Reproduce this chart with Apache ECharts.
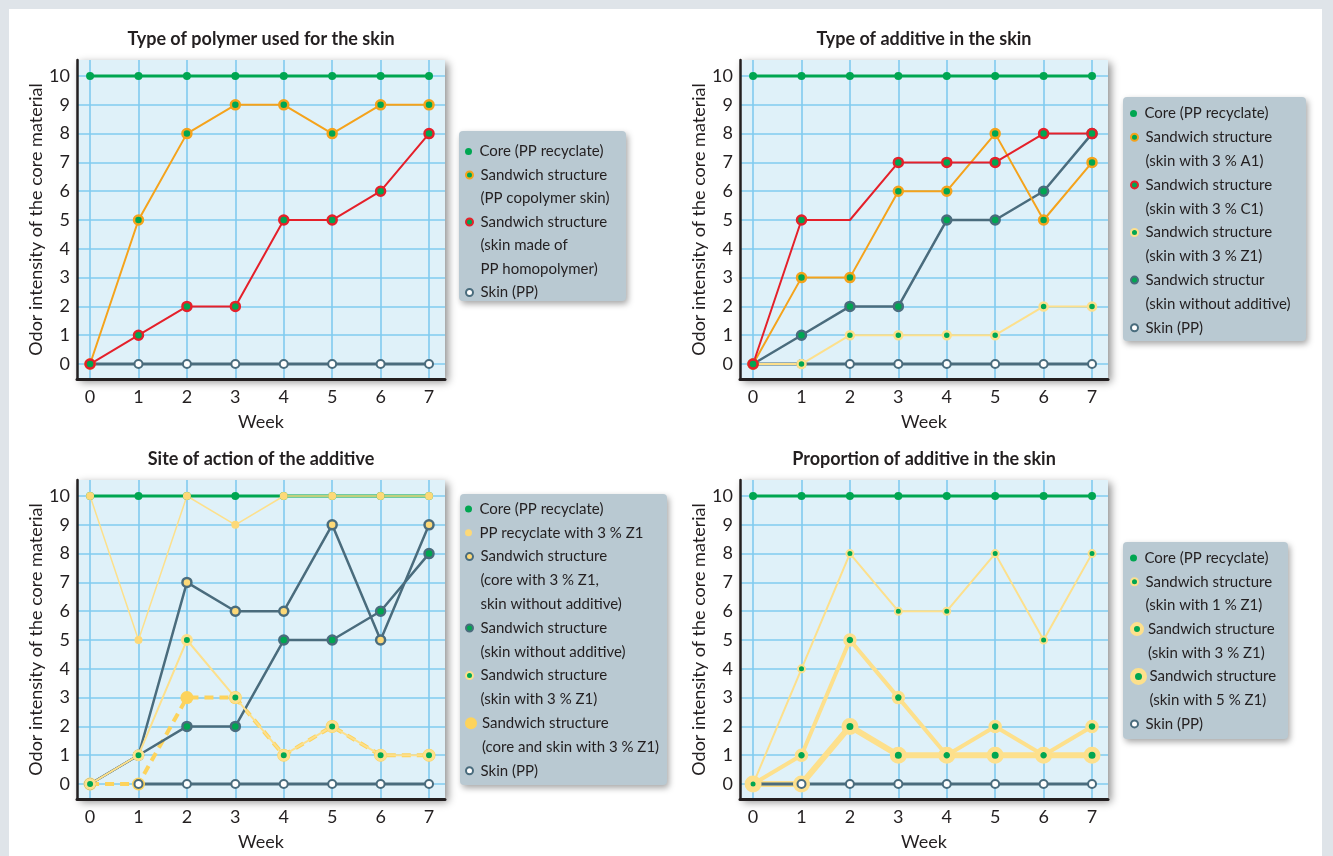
<!DOCTYPE html>
<html><head><meta charset="utf-8">
<script src="https://cdn.jsdelivr.net/npm/echarts@6/dist/echarts.min.js"></script>
<style>
html,body{margin:0;padding:0;background:#dfe4e9;overflow:hidden;}
#frame{position:absolute;left:9px;top:9px;width:1313px;height:860px;background:#fff;}
#chart{position:absolute;left:0;top:0;width:1333px;height:856px;}
</style></head><body><div id="frame"></div><div id="chart"></div>
<script>
// ---------- data ----------
const weeks = [0, 1, 2, 3, 4, 5, 6, 7];
const yTicks = [0, 1, 2, 3, 4, 5, 6, 7, 8, 9, 10];
const titles = ['Type of polymer used for the skin', 'Type of additive in the skin',
  'Site of action of the additive', 'Proportion of additive in the skin'];
const xName = 'Week';
const yName = 'Odor intensity of the core material';

// Panel 1
const p1Core = [10, 10, 10, 10, 10, 10, 10, 10];
const p1Copolymer = [0, 5, 8, 9, 9, 8, 9, 9];
const p1Homopolymer = [0, 1, 2, 2, 5, 5, 6, 8];
const p1Skin = [0, 0, 0, 0, 0, 0, 0, 0];
// Panel 2
const p2Core = [10, 10, 10, 10, 10, 10, 10, 10];
const p2A1 = [0, 3, 3, 6, 6, 8, 5, 7];
const p2C1 = [0, 5, 5, 7, 7, 7, 8, 8];
const p2Z1 = [0, 0, 1, 1, 1, 1, 2, 2];
const p2NoAdditive = [0, 1, 2, 2, 5, 5, 6, 8];
const p2Skin = [0, 0, 0, 0, 0, 0, 0, 0];
// Panel 3
const p3Core = [10, 10, 10, 10, 10, 10, 10, 10];
const p3RecyclateZ1 = [10, 5, 10, 9, 10, 10, 10, 10];
const p3CoreZ1 = [0, 1, 7, 6, 6, 9, 5, 9];
const p3NoAdditive = [0, 1, 2, 2, 5, 5, 6, 8];
const p3SkinZ1 = [0, 1, 5, 3, 1, 2, 1, 1];
const p3CoreSkinZ1 = [0, 0, 3, 3, 1, 2, 1, 1];
const p3Skin = [null, 0, 0, 0, 0, 0, 0, 0];
// Panel 4
const p4Core = [10, 10, 10, 10, 10, 10, 10, 10];
const p4Z1at1 = [0, 4, 8, 6, 6, 8, 5, 8];
const p4Z1at3 = [0, 1, 5, 3, 1, 2, 1, 2];
const p4Z1at5 = [0, 0, 2, 1, 1, 1, 1, 1];
const p4Skin = [0, 0, 0, 0, 0, 0, 0, 0];

// ---------- styles ----------
const FONT = 'Lato, "Open Sans", sans-serif';
const TXT = '#231f20';
const GREEN = '#00a651', ORANGE = '#f5a31b', RED = '#e5202a', SLATE = '#4a6c7d',
  LY = '#fde08c', GOLD = '#fdd35c', PALE = '#fdd978';

const ST = {
  core:   {lc: GREEN, lw: 3, fill: GREEN, size: 8, legSize: 7},
  skin:   {lc: SLATE, lw: 3, fill: '#ffffff', bc: SLATE, bw: 2, size: 8, legSize: 7, legBw: 2},
  orange: {lc: ORANGE, lw: 2, fill: GREEN, bc: ORANGE, bw: 2.5, size: 9, legSize: 7, legBw: 2},
  red:    {lc: RED, lw: 2, fill: GREEN, bc: RED, bw: 2.5, size: 9, legSize: 7, legBw: 2},
  ly:     {lc: LY, lw: 2, fill: GREEN, bc: LY, bw: 2.5, size: 8, legSize: 7, legBw: 2},
  slateG: {lc: SLATE, lw: 2.5, fill: GREEN, bc: SLATE, bw: 2.5, size: 9, legSize: 7, legBw: 2},
  slateY: {lc: SLATE, lw: 2.5, fill: PALE, bc: SLATE, bw: 2.5, size: 9, legSize: 7, legBw: 2},
  paleY:  {lc: LY, lw: 1.5, fill: PALE, size: 8, legSize: 7},
  dashY:  {lc: GOLD, lw: 4, dash: [9, 6], fill: GOLD, size: 13, legSize: 12},
  skinZ1: {lc: LY, lw: 2, fill: GREEN, bc: LY, bw: 3, size: 9, legSize: 7, legBw: 2},
  z1p1:   {lc: LY, lw: 2, fill: GREEN, bc: LY, bw: 2, size: 7, legSize: 7, legBw: 2},
  z1p3:   {lc: LY, lw: 4, fill: GREEN, bc: LY, bw: 3.5, size: 10, legSize: 10, legBw: 4},
  z1p5:   {lc: LY, lw: 6, fill: GREEN, bc: LY, bw: 5, size: 12, legSize: 12, legBw: 5}
};

// panels: items in legend order, layer = drawing order
const panels = [
  {grid: {left: 77, top: 60}, title: {x: 261, y: 30}, leg: {x: 471, y: 150.5, lh: 23.5, box: [459, 131, 167, 170]},
   items: [
    {name: 'Core (PP recyclate)', vals: p1Core, st: ST.core, layer: 1},
    {name: 'Sandwich structure\n(PP copolymer skin)', vals: p1Copolymer, st: ST.orange, layer: 2},
    {name: 'Sandwich structure\n(skin made of\nPP homopolymer)', vals: p1Homopolymer, st: ST.red, layer: 3},
    {name: 'Skin (PP)', vals: p1Skin, st: ST.skin, layer: 0}]},
  {grid: {left: 740, top: 60}, title: {x: 924, y: 30}, leg: {x: 1136, y: 112.5, lh: 23.8, box: [1123, 97, 183, 244]},
   items: [
    {name: 'Core (PP recyclate)', vals: p2Core, st: ST.core, layer: 5},
    {name: 'Sandwich structure\n(skin with 3 % A1)', vals: p2A1, st: ST.orange, layer: 3},
    {name: 'Sandwich structure\n(skin with 3 % C1)', vals: p2C1, st: ST.red, layer: 4, hideMarkerAt: [2]},
    {name: 'Sandwich structure\n(skin with 3 % Z1)', vals: p2Z1, st: ST.ly, layer: 1},
    {name: 'Sandwich structur\n(skin without additive)', vals: p2NoAdditive, st: ST.slateG, layer: 2},
    {name: 'Skin (PP)', vals: p2Skin, st: ST.skin, layer: 0}]},
  {grid: {left: 77, top: 480}, title: {x: 261, y: 450}, leg: {x: 471, y: 508, lh: 23.8, box: [460, 494, 207, 291]},
   items: [
    {name: 'Core (PP recyclate)', vals: p3Core, st: ST.core, layer: 0},
    {name: 'PP recyclate with 3 % Z1', vals: p3RecyclateZ1, st: ST.paleY, layer: 1},
    {name: 'Sandwich structure\n(core with 3 % Z1,\nskin without additive)', vals: p3CoreZ1, st: ST.slateY, layer: 4},
    {name: 'Sandwich structure\n(skin without additive)', vals: p3NoAdditive, st: ST.slateG, layer: 5},
    {name: 'Sandwich structure\n(skin with 3 % Z1)', vals: p3SkinZ1, st: ST.skinZ1, layer: 6},
    {name: 'Sandwich structure\n(core and skin with 3 % Z1)', vals: p3CoreSkinZ1, st: ST.dashY, layer: 2},
    {name: 'Skin (PP)', vals: p3Skin, st: ST.skin, layer: 3}]},
  {grid: {left: 740, top: 480}, title: {x: 924, y: 450}, leg: {x: 1136, y: 557, lh: 23.7, box: [1123, 542, 165, 197]},
   items: [
    {name: 'Core (PP recyclate)', vals: p4Core, st: ST.core, layer: 4},
    {name: 'Sandwich structure\n(skin with 1 % Z1)', vals: p4Z1at1, st: ST.z1p1, layer: 3},
    {name: 'Sandwich structure\n(skin with 3 % Z1)', vals: p4Z1at3, st: ST.z1p3, layer: 2},
    {name: 'Sandwich structure\n(skin with 5 % Z1)', vals: p4Z1at5, st: ST.z1p5, layer: 0},
    {name: 'Skin (PP)', vals: p4Skin, st: ST.skin, layer: 1}]}
];

const grids = [], xAxes = [], yAxes = [], series = [], legends = [], titleOpts = [], graphics = [];

panels.forEach((p, gi) => {
  grids.push({left: p.grid.left, top: p.grid.top, width: 368, height: 319, show: true,
    backgroundColor: '#dff1f9', borderWidth: 0, shadowBlur: 8, shadowColor: 'rgba(0,0,0,0.45)',
    shadowOffsetX: 3, shadowOffsetY: 3, outerBoundsMode: 'none', containLabel: false});
  xAxes.push({type: 'value', gridIndex: gi, min: -0.27, max: 7.33, name: xName,
    nameLocation: 'middle', nameGap: 34,
    nameTextStyle: {fontFamily: FONT, fontSize: 18, color: TXT},
    axisLine: {show: true, onZero: false, lineStyle: {color: TXT, width: 3}},
    axisTick: {show: false, customValues: weeks},
    axisLabel: {customValues: weeks, fontFamily: FONT, fontSize: 18, color: TXT, margin: 9},
    splitLine: {show: true, lineStyle: {color: '#80cbef', width: 1.6}}});
  yAxes.push({type: 'value', gridIndex: gi, min: -0.52, max: 10.556, name: yName,
    nameLocation: 'middle', nameGap: 31,
    nameTextStyle: {fontFamily: FONT, fontSize: 18, color: TXT},
    axisLine: {show: true, onZero: false, lineStyle: {color: TXT, width: 2.5}},
    axisTick: {show: false, customValues: yTicks},
    axisLabel: {customValues: yTicks, fontFamily: FONT, fontSize: 18, color: TXT, margin: 7},
    splitLine: {show: true, lineStyle: {color: '#80cbef', width: 1.6}}});
  titleOpts.push({text: titles[gi], left: p.title.x, top: p.title.y, textAlign: 'center', padding: 0,
    textStyle: {fontFamily: FONT, fontSize: 18, fontWeight: 'bold', color: TXT}});

  // series in drawing order
  p.items.slice().sort((a, b) => a.layer - b.layer).forEach(it => {
    const s = it.st;
    const hide = it.hideMarkerAt || [];
    series.push({
      type: 'line', name: it.name, xAxisIndex: gi, yAxisIndex: gi,
      data: weeks.map((w, i) => {
        const v = it.vals[i] == null ? '-' : it.vals[i];
        return hide.indexOf(i) >= 0 ? {value: [w, v], symbol: 'none'} : [w, v];
      }),
      symbol: 'circle', symbolSize: s.size, showSymbol: true, showAllSymbol: true,
      lineStyle: {color: s.lc, width: s.lw, type: s.dash || 'solid'},
      itemStyle: {color: s.fill, borderColor: s.bc || s.fill, borderWidth: s.bw || 0},
      emphasis: {disabled: true}, silent: true, animation: false
    });
  });

  // legend box
  const b = p.leg.box;
  graphics.push({type: 'rect', shape: {x: b[0], y: b[1], width: b[2], height: b[3], r: 4}, z: 1,
    style: {fill: '#b9c9d2', shadowBlur: 6, shadowOffsetX: 2, shadowOffsetY: 3, shadowColor: 'rgba(0,0,0,0.35)'}});

  // legends: one per item; leading blank lines keep the icon on the first text line
  let line = 0;
  p.items.forEach(it => {
    const n = it.name.split('\n').length;
    const s = it.st;
    const H = s.legSize, W = Math.max(12, H);
    const cy = p.leg.y + line * p.leg.lh;
    legends.push({
      orient: 'vertical', left: p.leg.x - W / 2, top: cy - (n - 0.5) * p.leg.lh + 1, padding: 0, itemGap: 0,
      itemWidth: W, itemHeight: H, selectedMode: false, z: 5,
      formatter: '\n'.repeat(n - 1) + '{name}',
      textStyle: {fontFamily: FONT, fontSize: 15, color: TXT, lineHeight: p.leg.lh},
      data: [{name: it.name, icon: 'circle',
        itemStyle: {color: s.fill, borderColor: s.bc || s.fill, borderWidth: s.legBw || 0}}]
    });
    line += n;
  });
});

const chart = echarts.init(document.getElementById('chart'), null, {renderer: 'canvas'});
chart.setOption({
  backgroundColor: 'transparent', animation: false,
  title: titleOpts, grid: grids, xAxis: xAxes, yAxis: yAxes, series: series,
  legend: legends, graphic: graphics
});
</script></body></html>
